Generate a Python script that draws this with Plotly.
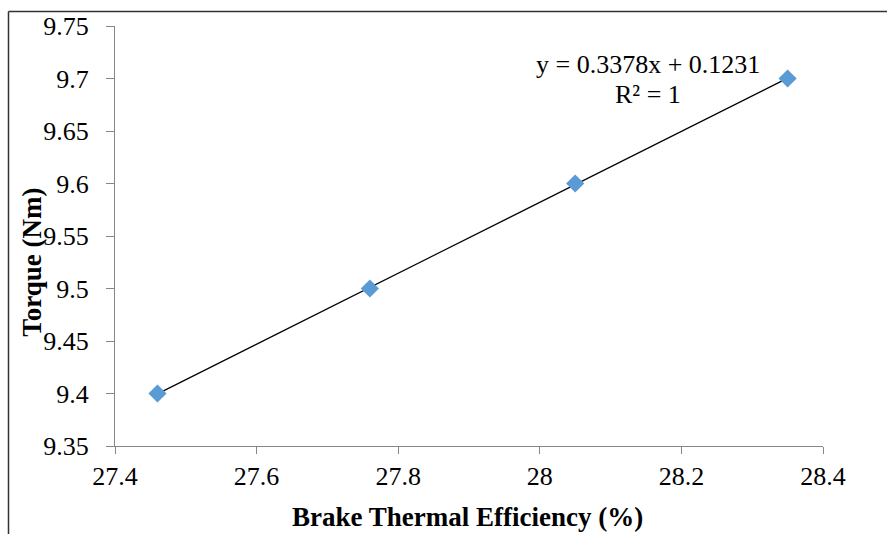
import numpy as np
import plotly.graph_objects as go

bte = [27.46, 27.76, 28.05, 28.35]
torque = [9.4, 9.5, 9.6, 9.7]
x_ticks = [27.4, 27.6, 27.8, 28.0, 28.2, 28.4]
y_ticks = [9.35, 9.4, 9.45, 9.5, 9.55, 9.6, 9.65, 9.7, 9.75]
eq_text = "y = 0.3378x + 0.1231"
r2_text = "R² = 1"
x_title = "Brake Thermal Efficiency (%)"
y_title = "Torque (Nm)"

FONT = "Liberation Serif"

slope, intercept = np.polyfit(bte, torque, 1)
tx = np.array([bte[0], bte[-1]])
ty = slope * tx + intercept

fig = go.Figure()
fig.add_trace(go.Scatter(x=tx, y=ty, mode="lines",
                         line=dict(color="black", width=1.2), showlegend=False,
                         hoverinfo="skip"))
fig.add_trace(go.Scatter(x=bte, y=torque, mode="markers",
                         marker=dict(symbol="diamond", size=14, color="#5B9BD5",
                                     line=dict(width=0)),
                         showlegend=False))

W, H = 887, 534
L, R, T, B = 115, 64, 24, 88
pw, ph = W - L - R, H - T - B

def px_to_paper_x(px):
    return (px - L) / pw

def px_to_paper_y(py):
    return (H - B - py) / ph

fig.update_layout(
    width=W, height=H,
    margin=dict(l=L, r=R, t=T, b=B),
    paper_bgcolor="white", plot_bgcolor="white",
    font=dict(family=FONT, size=26, color="black"),
    xaxis=dict(range=[27.4, 28.4], tickvals=x_ticks,
               ticktext=[("%g" % v) for v in x_ticks],
               showgrid=False, zeroline=False, showline=True,
               linecolor="#868686", linewidth=1.2, ticks="outside",
               ticklen=7, tickcolor="#868686", tickwidth=1.2,
               ticklabelstandoff=0,
               tickfont=dict(family=FONT, size=26, color="black")),
    yaxis=dict(range=[9.35, 9.75], tickvals=y_ticks,
               ticktext=[("%g" % v) for v in y_ticks],
               showgrid=False, zeroline=False, showline=True,
               linecolor="#868686", linewidth=1.2, ticks="outside",
               ticklen=8, tickcolor="#868686", tickwidth=1.2,
               ticklabelstandoff=12,
               tickfont=dict(family=FONT, size=26, color="black")),
    annotations=[
        dict(text=x_title, xref="paper", yref="paper",
             x=px_to_paper_x(467), y=px_to_paper_y(517),
             showarrow=False, xanchor="center", yanchor="middle",
             font=dict(family=FONT, size=27, color="black", weight="bold")),
        dict(text=y_title, xref="paper", yref="paper",
             x=px_to_paper_x(32), y=px_to_paper_y(262), textangle=-90,
             showarrow=False, xanchor="center", yanchor="middle",
             font=dict(family=FONT, size=27, color="black", weight="bold")),
        dict(text=eq_text, xref="paper", yref="paper",
             x=px_to_paper_x(648), y=px_to_paper_y(63),
             showarrow=False, xanchor="center", yanchor="middle",
             font=dict(family=FONT, size=26, color="black")),
        dict(text=r2_text, xref="paper", yref="paper",
             x=px_to_paper_x(648), y=px_to_paper_y(93),
             showarrow=False, xanchor="center", yanchor="middle",
             font=dict(family=FONT, size=26, color="black")),
    ],
    shapes=[
        dict(type="line", xref="paper", yref="paper",
             x0=px_to_paper_x(8.5), x1=px_to_paper_x(8.5),
             y0=px_to_paper_y(H + 10), y1=px_to_paper_y(9.5),
             line=dict(color="#333333", width=1.5)),
        dict(type="line", xref="paper", yref="paper",
             x0=px_to_paper_x(8.5), x1=px_to_paper_x(W + 10),
             y0=px_to_paper_y(9.5), y1=px_to_paper_y(9.5),
             line=dict(color="#333333", width=1.5)),
    ],
)

fig.write_html("out.html")
